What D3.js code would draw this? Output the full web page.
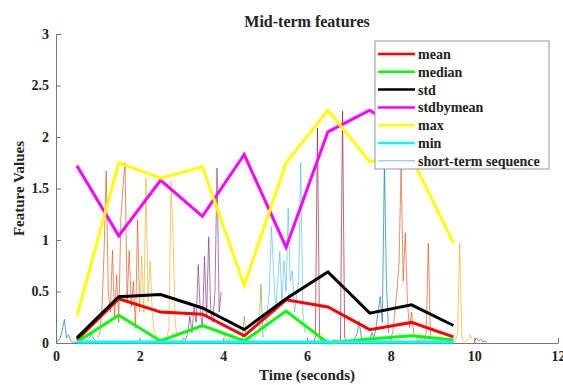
<!DOCTYPE html>
<html>
<head>
<meta charset="utf-8">
<script src="https://cdn.jsdelivr.net/npm/d3@7"></script>
<style>
  body { margin: 0; background: #fff; }
  text { font-family: "Liberation Serif", "Times New Roman", serif; font-weight: bold; fill: #222; }
</style>
</head>
<body>
<div id="chart"></div>
<script>
// mid-term window centres (seconds)
const midTimes = [0.5, 1.5, 2.5, 3.5, 4.5, 5.5, 6.5, 7.5, 8.5, 9.5];

// mid-term feature values
const meanVals = [0.03, 0.43, 0.30, 0.28, 0.07, 0.42, 0.35, 0.13, 0.20, 0.06];
const medianVals = [0.01, 0.27, 0.02, 0.17, 0.02, 0.31, 0.00, 0.04, 0.07, 0.03];
const stdVals = [0.05, 0.45, 0.47, 0.34, 0.13, 0.43, 0.69, 0.29, 0.37, 0.17];
const stdbymeanVals = [1.72, 1.04, 1.58, 1.23, 1.83, 0.93, 2.05, 2.26, 2.00, 1.90];
const maxVals = [0.26, 1.75, 1.60, 1.71, 0.56, 1.75, 2.26, 1.76, 1.80, 0.97];
const minVals = [0.01, 0.01, 0.01, 0.01, 0.01, 0.01, 0.01, 0.01, 0.01, 0.01];

// short-term sequence, one array per 1 s window, sampled every 0.05 s
const stStep = 0.05;
const stStarts = [0, 1, 2, 3, 4, 5, 6, 7, 8, 9, 10];
const stSeg0 = [0.01,0.02,0.05,0.12,0.23,0.05,0.08,0.02,0.01,0.01,0,0.01,0.01,0.02,0.01,0.03,0.05,0.09,0.04,0.02];
const stSeg1 = [0.05,0.1,0.35,0.9,1.67,0.5,0.3,0.9,0.25,0.66,0.2,1.2,1.51,1.75,0.4,0.9,0.35,0.6,0.15,1.2,0.3];
const stSeg2 = [0.3,0.85,0.3,1.6,0.4,0.8,0.3,0.1,0.05,0.02,0.05,0.03,0.02,0.05,0.15,1.57,1.0,0.2,0.05,0.02];
const stSeg3 = [0.02,0.05,0.03,0.1,0.26,0.1,0.35,0.2,0.76,0.3,0.15,0.84,0.25,1.03,0.3,0.2,0.5,1.7,0.3,0.5];
const stSeg4 = [0.1,0.05,0.02,0.03,0.08,0.02,0.01,0.02,0.01,0.03,0.26,0.03,0.02,0.01,0.02,0.05,0.08,0.1,0.57,0.05];
const stSeg5 = [0.1,0.3,0.5,1.13,0.71,0.3,0.6,0.89,0.4,0.8,0.5,1.31,0.6,0.7,0.3,0.45,0.6,1.75,0.3,0.1];
const stSeg6 = [0.02,0.01,0.02,0.01,0.05,2.09,0.05,0.02,0.01,0.02,0.03,0.01,0.02,0.03,0.02,0.01,0.03,2.25,0.05,0.02];
const stSeg7 = [0.02,0.03,0.02,0.05,0.1,0.21,0.05,0.02,0.03,0.05,0.03,0.1,0.05,0.15,0.3,0.45,0.2,1.75,0.56,0.1];
const stSeg8 = [0.05,0.1,0.3,0.5,0.78,1.72,0.6,1.07,0.4,0.15,0.3,0.1,0.05,0.02,0.03,0.05,0.02,0.1,0.97,0.05];
const stSeg9 = [0.03,0.02,0.01,0.02,0.01,0.02,0.01,0.02,0.01,0.02,0.01,0.02,0.1,0.97,0.05,0.01,0.02,0.03,0.08,0.03];
const stSeg10 = [0.02,0.05,0.02,0.04,0.01,0.02,0.01];
const stSegs = [stSeg0, stSeg1, stSeg2, stSeg3, stSeg4, stSeg5, stSeg6, stSeg7, stSeg8, stSeg9, stSeg10];
const stColors = ["#0072BD", "#D95319", "#EDB120", "#7E2F8E", "#77AC30", "#4DBEEE", "#A2142F"];

const xTicks = [0, 2, 4, 6, 8, 10, 12];
const yTicks = [0, 0.5, 1, 1.5, 2, 2.5, 3];

const width = 563, height = 385;
const margin = {top: 34, right: 5, bottom: 42, left: 56};

const svg = d3.select("#chart").append("svg")
  .attr("width", width)
  .attr("height", height);

const x = d3.scaleLinear().domain([0, 12]).range([margin.left, width - margin.right]);
const y = d3.scaleLinear().domain([0, 3]).range([height - margin.bottom, margin.top]);

// axes (drawn under the data, like MATLAB's default layer)
const xAxis = svg.append("g")
  .attr("transform", "translate(0," + y(0) + ")")
  .call(d3.axisBottom(x).tickValues(xTicks).tickFormat(d => d).tickSize(-5).tickSizeOuter(0).tickPadding(8));
const yAxis = svg.append("g")
  .attr("transform", "translate(" + x(0) + ",0)")
  .call(d3.axisLeft(y).tickValues(yTicks).tickFormat(d => d).tickSize(-5).tickSizeOuter(0).tickPadding(7));

[xAxis, yAxis].forEach(g => {
  g.select(".domain").attr("stroke", "#777");
  g.selectAll(".tick line").attr("stroke", "#777");
  g.selectAll(".tick text")
    .style("font-family", "Liberation Serif")
    .style("font-weight", "bold")
    .style("font-size", "14px")
    .attr("fill", "#222");
});

// short-term sequence
stSegs.forEach((seg, i) => {
  const pts = seg.map((v, j) => [stStarts[i] + j * stStep, v]);
  svg.append("path")
    .datum(pts)
    .attr("d", d3.line().x(d => x(d[0])).y(d => y(d[1])))
    .style("fill", "none")
    .style("stroke", stColors[i % stColors.length])
    .style("stroke-opacity", 0.65)
    .style("stroke-width", 1);
});

// mid-term lines
const series = [
  {name: "mean", vals: meanVals, color: "#ff0000"},
  {name: "median", vals: medianVals, color: "#00ff00"},
  {name: "std", vals: stdVals, color: "#000000"},
  {name: "stdbymean", vals: stdbymeanVals, color: "#ff00ff"},
  {name: "max", vals: maxVals, color: "#ffff00"},
  {name: "min", vals: minVals, color: "#00ffff"}
];

series.forEach(s => {
  svg.append("path")
    .datum(s.vals.map((v, i) => [midTimes[i], v]))
    .attr("d", d3.line().x(d => x(d[0])).y(d => y(d[1])))
    .style("fill", "none")
    .style("stroke", s.color)
    .style("stroke-width", 3)
    .style("stroke-linejoin", "miter");
});

// title and labels
svg.append("text")
  .attr("x", (x(0) + x(12)) / 2)
  .attr("y", 27)
  .attr("text-anchor", "middle")
  .style("font-size", "16px")
  .text("Mid-term features");

svg.append("text")
  .attr("x", (x(0) + x(12)) / 2)
  .attr("y", 380)
  .attr("text-anchor", "middle")
  .style("font-size", "15px")
  .text("Time (seconds)");

svg.append("text")
  .attr("transform", "translate(24," + (y(1.5)) + ")rotate(-90)")
  .attr("text-anchor", "middle")
  .style("font-size", "15px")
  .text("Feature Values");

// legend
const legend = svg.append("g").attr("transform", "translate(375,41)");
legend.append("rect")
  .attr("width", 174)
  .attr("height", 128)
  .attr("fill", "#fff")
  .attr("stroke", "#999");

const legendItems = series.map(s => ({name: s.name, color: s.color, w: 2.5, op: 1}))
  .concat([{name: "short-term sequence", color: "#0072BD", w: 1, op: 0.5}]);

legendItems.forEach((d, i) => {
  const ly = 13 + i * 17.8;
  legend.append("line")
    .attr("x1", 3).attr("x2", 40)
    .attr("y1", ly).attr("y2", ly)
    .style("stroke", d.color)
    .style("stroke-width", d.w)
    .style("stroke-opacity", d.op);
  legend.append("text")
    .attr("x", 43)
    .attr("y", ly + 5)
    .style("font-size", "14px")
    .text(d.name);
});
</script>
</body>
</html>
